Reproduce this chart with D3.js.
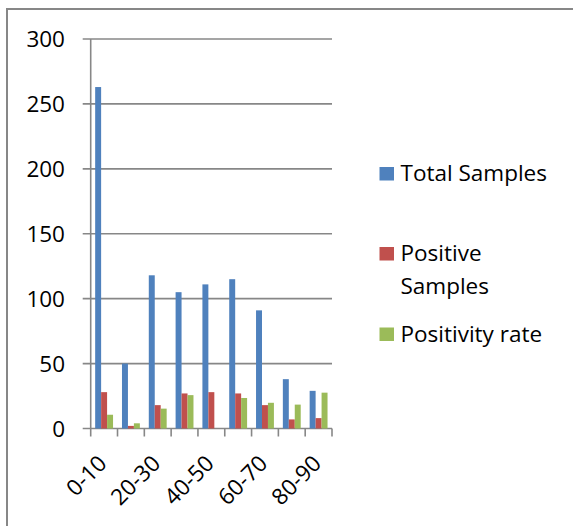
<!DOCTYPE html>
<html>
<head>
<meta charset="utf-8">
<script src="https://cdn.jsdelivr.net/npm/d3@7"></script>
<style>
  html, body { margin: 0; padding: 0; background: #fff; }
  svg { display: block; }
  text { font-family: "Open Sans", "Liberation Sans", sans-serif; fill: #000; }
</style>
</head>
<body>
<svg id="chart" width="573" height="526"></svg>
<script>
// Age groups and the three series per group
const categories = ["0-10", "10-20", "20-30", "30-40", "40-50", "50-60", "60-70", "70-80", "80-90"];
const totalSamples = [263, 50, 118, 105, 111, 115, 91, 38, 29];
const positiveSamples = [28, 2, 18, 27, 28, 27, 18, 7, 8];
const positivityRate = [10.6, 4, 15.3, 25.7, null, 23.5, 19.8, 18.4, 27.6];
const seriesNames = ["Total Samples", "Positive Samples", "Positivity rate"];
const seriesColors = ["#4F81BD", "#C0504D", "#9BBB59"];
const yTicks = [0, 50, 100, 150, 200, 250, 300];
// only every other category gets a label on the axis
const shownLabels = ["0-10", "20-30", "40-50", "60-70", "80-90"];

const seriesValues = [totalSamples, positiveSamples, positivityRate];

const svg = d3.select("#chart");
const gridColor = "#878787";

// chart frame
svg.append("rect")
  .attr("x", 7).attr("y", 9)
  .attr("width", 640).attr("height", 600)
  .attr("fill", "none")
  .attr("stroke", gridColor)
  .attr("stroke-width", 2);

const plotLeft = 90.7, plotRight = 332, plotTop = 39, plotBottom = 428.5;

const x = d3.scaleBand().domain(categories).range([plotLeft, plotRight]).padding(0);
const xInner = d3.scaleBand().domain(seriesNames).range([0, x.bandwidth()])
  .paddingInner(0).paddingOuter(0.75);
const y = d3.scaleLinear().domain([0, 300]).range([plotBottom, plotTop]);

// horizontal gridlines (with short tick stubs to the left)
svg.append("g").selectAll("line")
  .data(yTicks)
  .join("line")
  .attr("x1", plotLeft - 8).attr("x2", plotRight)
  .attr("y1", d => y(d)).attr("y2", d => y(d))
  .attr("stroke", gridColor).attr("stroke-width", 1.6);

// vertical value axis
svg.append("line")
  .attr("x1", plotLeft).attr("x2", plotLeft)
  .attr("y1", y(300)).attr("y2", y(0))
  .attr("stroke", gridColor).attr("stroke-width", 1.6);

// y tick labels
svg.append("g").selectAll("text")
  .data(yTicks)
  .join("text")
  .attr("x", 65)
  .attr("y", d => y(d) + 8)
  .attr("text-anchor", "end")
  .attr("font-size", "22.5px")
  .text(d => d);

// category axis ticks
const boundaries = categories.map(c => x(c)).concat([x(categories[categories.length - 1]) + x.bandwidth()]);
svg.append("g").selectAll("line")
  .data(boundaries)
  .join("line")
  .attr("x1", d => d).attr("x2", d => d)
  .attr("y1", plotBottom).attr("y2", plotBottom + 8)
  .attr("stroke", gridColor).attr("stroke-width", 1.6);

// bars
const groups = svg.append("g").selectAll("g")
  .data(categories)
  .join("g")
  .attr("transform", c => `translate(${x(c)},0)`);

groups.selectAll("rect")
  .data((c, i) => seriesNames.map((s, k) => ({ s, k, v: seriesValues[k][i] })).filter(d => d.v != null))
  .join("rect")
  .attr("x", d => xInner(d.s))
  .attr("width", xInner.bandwidth())
  .attr("y", d => y(d.v))
  .attr("height", d => y(0) - y(d.v))
  .attr("fill", d => seriesColors[d.k]);

// rotated category labels
svg.append("g").selectAll("text")
  .data(shownLabels)
  .join("text")
  .attr("text-anchor", "end")
  .attr("font-size", "22.5px")
  .attr("transform", c => `translate(${x(c) + x.bandwidth() / 2 + 4},465) rotate(-45)`)
  .text(c => c);

// legend
const legendItems = [
  { name: seriesNames[0], lines: ["Total Samples"], baseline: 181 },
  { name: seriesNames[1], lines: ["Positive", "Samples"], baseline: 261 },
  { name: seriesNames[2], lines: ["Positivity rate"], baseline: 341.5 }
];
const legend = svg.append("g");
legendItems.forEach((item, k) => {
  legend.append("rect")
    .attr("x", 379.5).attr("y", item.baseline - 14)
    .attr("width", 14.5).attr("height", 13.5)
    .attr("fill", seriesColors[k]);
  item.lines.forEach((ln, j) => {
    legend.append("text")
      .attr("x", 400.5)
      .attr("y", item.baseline + j * 32.5)
      .attr("font-size", "22.5px")
      .text(ln);
  });
});
</script>
</body>
</html>
